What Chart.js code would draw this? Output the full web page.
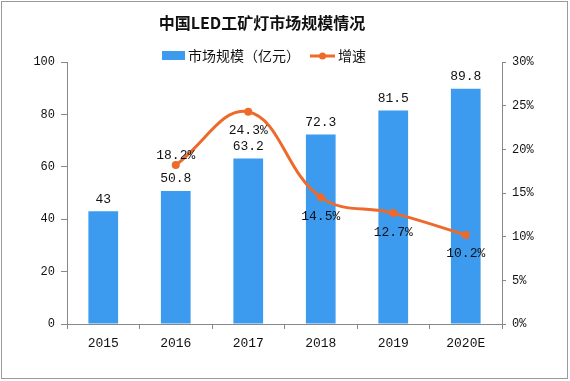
<!DOCTYPE html>
<html><head><meta charset="utf-8">
<script src="https://cdn.jsdelivr.net/npm/chart.js@4/dist/chart.umd.min.js"></script>
<style>html,body{margin:0;padding:0;background:#fff;}#wrap{width:570px;height:381px;position:relative;}</style>
</head><body><div id="wrap"><canvas id="c" width="570" height="381"></canvas></div>
<script>
const categories = ['2015','2016','2017','2018','2019','2020E'];
const marketSize = [43, 50.8, 63.2, 72.3, 81.5, 89.8];
const growthRate = [null, 18.2, 24.3, 14.5, 12.7, 10.2];
const leftTicks = [0, 20, 40, 60, 80, 100];
const rightTicks = [0, 5, 10, 15, 20, 25, 30];
const titleText = '中国LED工矿灯市场规模情况';
const legendBar = '市场规模（亿元）';
const legendLine = '增速';

const BAR = '#3D9BEF', LINE = '#EE6A2A', AXIS = '#888';
const numFont = "'Liberation Mono', monospace";
Chart.defaults.font.family = numFont;
Chart.defaults.color = '#111';

const labelsPlugin = {
  id: 'extras',
  afterDraw(chart) {
    const ctx = chart.ctx;
    ctx.save();
    ctx.strokeStyle = '#9a9a9a'; ctx.lineWidth = 1;
    ctx.strokeRect(1.5, 1.5, 566, 377);
    ctx.fillStyle = '#111';
    ctx.font = 'bold 16px "Noto Sans CJK SC"';
    ctx.textAlign = 'center'; ctx.textBaseline = 'middle';
    ctx.fillText(titleText, 262, 23);
    ctx.fillStyle = BAR; ctx.fillRect(162, 51, 23, 9);
    ctx.fillStyle = '#111'; ctx.font = '14px "Noto Sans CJK SC"'; ctx.textAlign = 'left';
    ctx.fillText(legendBar, 188, 56);
    ctx.strokeStyle = LINE; ctx.lineWidth = 3;
    ctx.beginPath(); ctx.moveTo(310, 56); ctx.lineTo(335, 56); ctx.stroke();
    ctx.fillStyle = LINE; ctx.beginPath(); ctx.arc(322.5, 56, 3.5, 0, Math.PI*2); ctx.fill();
    ctx.fillStyle = '#111'; ctx.fillText(legendLine, 338, 56);
    ctx.font = '13px ' + numFont; ctx.textAlign = 'center'; ctx.fillStyle = '#111';
    chart.getDatasetMeta(1).data.forEach((el, i) => {
      ctx.fillText(String(marketSize[i]), el.x, el.y - 12);
    });
    chart.getDatasetMeta(0).data.forEach((el, i) => {
      const v = growthRate[i];
      if (v === null) return;
      const dy = i === 1 ? -9 : 19;
      ctx.fillText(v.toFixed(1) + '%', el.x, el.y + dy);
    });
    ctx.restore();
  }
};

new Chart(document.getElementById('c'), {
  data: {
    labels: categories,
    datasets: [
      { type: 'line', label: legendLine, data: growthRate, yAxisID: 'y1', borderColor: LINE, backgroundColor: LINE,
        borderWidth: 3, pointRadius: 4, pointBackgroundColor: LINE, pointBorderWidth: 0, tension: 0.4, spanGaps: false, order: 0 },
      { type: 'bar', label: legendBar, data: marketSize, yAxisID: 'y', backgroundColor: BAR,
        barPercentage: 0.41, categoryPercentage: 1, order: 1 }
    ]
  },
  options: {
    responsive: false, animation: false,
    layout: { padding: { top: 62, left: 0, right: 0, bottom: 0 } },
    plugins: { legend: { display: false }, title: { display: false }, tooltip: { enabled: false } },
    scales: {
      x: {
        grid: { display: true, offset: true, drawOnChartArea: false, color: AXIS, tickLength: 5, tickColor: AXIS },
        border: { color: AXIS },
        ticks: { color: '#111', font: { family: numFont, size: 13 }, padding: 7, maxRotation: 0 },
        afterFit(s) { s.height = 57; }
      },
      y: {
        position: 'left', min: 0, max: 100,
        afterBuildTicks(s) { s.ticks = leftTicks.map(v => ({ value: v })); },
        grid: { drawOnChartArea: false, color: AXIS, tickLength: 6, tickColor: AXIS },
        border: { color: AXIS },
        ticks: { color: '#111', font: { family: numFont, size: 12 }, padding: 6 },
        afterFit(s) { s.width = 67; }
      },
      y1: {
        position: 'right', min: 0, max: 30,
        afterBuildTicks(s) { s.ticks = rightTicks.map(v => ({ value: v })); },
        grid: { drawOnChartArea: false, color: AXIS, tickLength: 4, tickColor: AXIS },
        border: { color: AXIS },
        ticks: { color: '#111', font: { family: numFont, size: 12 }, padding: 6, callback: v => v + '%' },
        afterFit(s) { s.width = 68; }
      }
    }
  },
  plugins: [labelsPlugin]
});
</script></body></html>
